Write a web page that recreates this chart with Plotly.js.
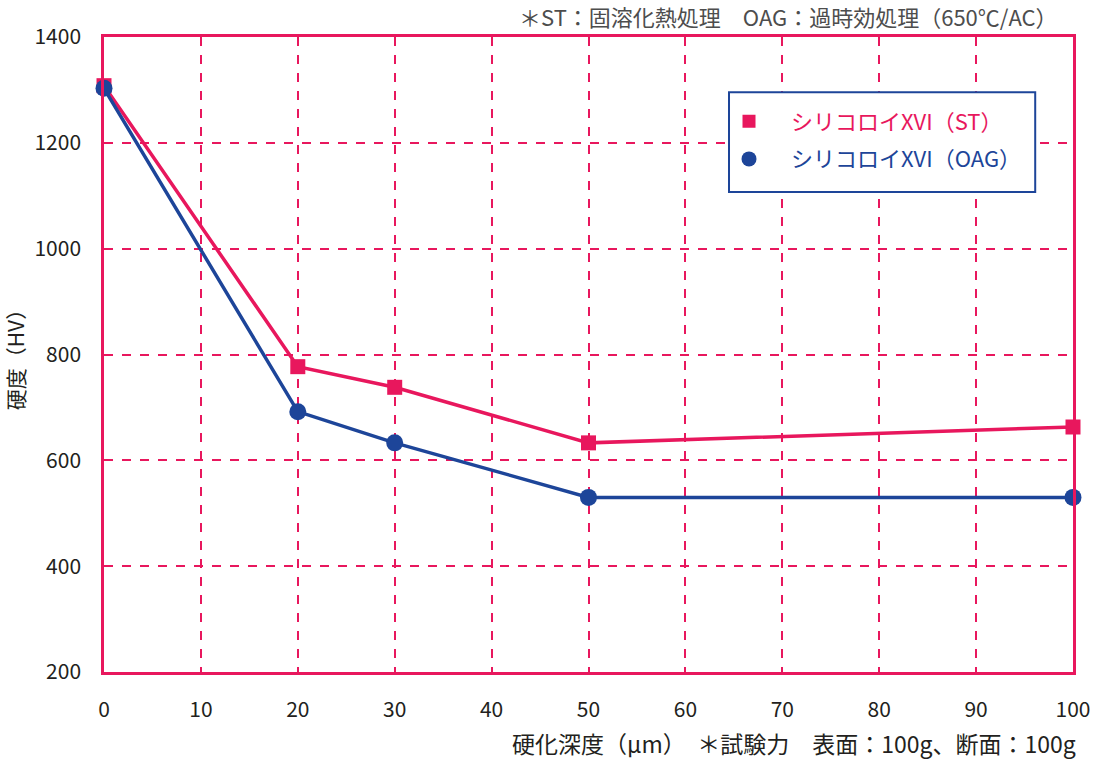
<!DOCTYPE html>
<html>
<head>
<meta charset="utf-8">
<script src="https://cdn.plot.ly/plotly-3.0.1.min.js"></script>
<style>
  html, body { margin: 0; padding: 0; background: #fff; }
  #chart { width: 1094px; height: 759px; }
</style>
</head>
<body>
<div id="chart"></div>
<script>
const depth = [0, 20, 30, 50, 100];
const hvST = [1308, 777, 738, 633, 663];
const hvOAG = [1303, 692, 633, 530, 530];
const nameST = "シリコロイXVI（ST）";
const nameOAG = "シリコロイXVI（OAG）";

const pink = "#e8175d";
const blue = "#1d4599";
const ink = "#231f20";
const font = "Noto Sans CJK JP, Noto Sans, sans-serif";

const traces = [
  {
    x: depth, y: hvST, type: "scatter", mode: "lines+markers",
    line: { color: pink, width: 3.5 },
    marker: { color: pink, symbol: "square", size: 15 },
    showlegend: false, cliponaxis: false
  },
  {
    x: depth, y: hvOAG, type: "scatter", mode: "lines+markers",
    line: { color: blue, width: 3.5 },
    marker: { color: blue, symbol: "circle", size: 17 },
    showlegend: false, cliponaxis: false
  },
  // legend entries, marker only
  {
    x: [null], y: [null], type: "scatter", mode: "markers", legendgroup: "st",
    name: '<span style="color:' + pink + '">\u2003' + nameST + '</span>',
    marker: { color: pink, symbol: "square", size: 13 }
  },
  {
    x: [null], y: [null], type: "scatter", mode: "markers", legendgroup: "oag",
    name: '<span style="color:' + blue + '">\u2003' + nameOAG + '</span>',
    marker: { color: blue, symbol: "circle", size: 15 }
  }
];

const layout = {
  width: 1094, height: 759,
  margin: { l: 104, r: 21, t: 37, b: 87 },
  paper_bgcolor: "#fff", plot_bgcolor: "#fff",
  font: { family: font, size: 21, color: ink },
  xaxis: {
    range: [0, 100], dtick: 10, tick0: 0,
    showgrid: true, gridcolor: pink, gridwidth: 1.5, griddash: "dash",
    showline: true, linecolor: pink, linewidth: 2.5, mirror: true,
    zeroline: false, ticks: "", ticklabelstandoff: 17,
    tickfont: { size: 21, color: ink }
  },
  yaxis: {
    range: [200, 1400], dtick: 200, tick0: 200,
    showgrid: true, gridcolor: pink, gridwidth: 1.5, griddash: "dash",
    showline: true, linecolor: pink, linewidth: 2.5, mirror: true,
    zeroline: false, ticks: "", ticklabelstandoff: 16,
    tickfont: { size: 21, color: ink },
    title: { text: "硬度（HV）", font: { size: 21, color: ink }, standoff: 16 }
  },
  legend: {
    x: 0.645, y: 0.9, xanchor: "left", yanchor: "top",
    bgcolor: "rgba(0,0,0,0)", borderwidth: 0,
    font: { size: 22, family: font },
    traceorder: "grouped", tracegroupgap: 6
  },
  shapes: [
    {
      type: "rect", xref: "paper", yref: "paper",
      x0: 0.645, x1: 0.961, y0: 0.756, y1: 0.913,
      fillcolor: "#fff", line: { color: blue, width: 2 }, layer: "above"
    }
  ],
  annotations: [
    {
      xref: "paper", yref: "paper", x: 1.005, y: -0.082,
      xanchor: "right", yanchor: "top", showarrow: false,
      text: "硬化深度（μm）　＊試験力　表面：100g、断面：100g",
      font: { size: 23, color: ink }
    },
    {
      xref: "paper", yref: "paper", x: 0.987, y: 1.033,
      xanchor: "right", yanchor: "middle", showarrow: false,
      text: "＊ST：固溶化熱処理　OAG：過時効処理（650℃/AC）",
      font: { size: 22, color: "#4d4d4d" }
    }
  ]
};

Plotly.newPlot("chart", traces, layout, { displayModeBar: false });
</script>
</body>
</html>
